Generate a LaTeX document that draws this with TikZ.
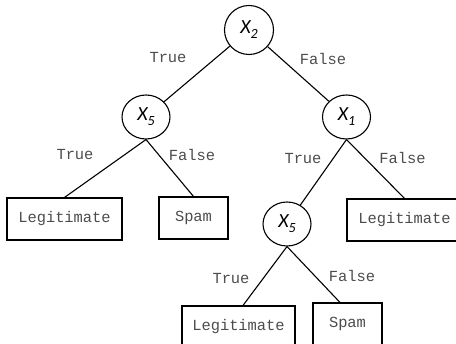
\documentclass[tikz,border=0pt]{standalone}
\usepackage{fontspec}
\setmonofont{Liberation Mono}
\newfontfamily\varfont{Carlito}
\usetikzlibrary{shapes.geometric}
\tikzset{
  var/.style={draw, ellipse, line width=1.1pt, inner sep=0pt, minimum width=48pt, minimum height=44pt,
    font=\fontsize{20}{20}\selectfont\varfont\itshape},
  leaf/.style={draw, rectangle, line width=1.1pt, inner sep=0pt, minimum height=42pt,
    font=\fontsize{15.4}{18}\selectfont\ttfamily, text=black!70},
  lbl/.style={font=\fontsize{15.4}{18}\selectfont\ttfamily, text=black!70, inner sep=0pt},
  edge/.style={line width=1.1pt}
}
\newcommand{\xvar}[1]{X\raisebox{-5pt}{\fontsize{14}{14}\selectfont #1}}
\begin{document}
\begin{tikzpicture}[x=1pt,y=-1pt]
\useasboundingbox (0,0) rectangle (456,344);
\clip (0,0) rectangle (456,344);
% decision nodes
\node[var, minimum width=49pt, minimum height=49pt] (root) at (249,30) {\xvar{2}};
\node[var] (x5a) at (146,117) {\xvar{5}};
\node[var] (x1) at (346.5,117) {\xvar{1}};
\node[var] (x5b) at (287,224) {\xvar{5}};
% leaves
\node[leaf, minimum width=115pt] (leg1) at (64.5,219) {Legitimate};
\node[leaf, minimum width=69pt] (spam1) at (193.5,218) {Spam};
\node[leaf, minimum width=115pt] (leg2) at (404.5,220) {Legitimate};
\node[leaf, minimum width=113pt] (leg3) at (238.5,327) {Legitimate};
\node[leaf, minimum width=69pt] (spam3) at (347.5,324) {Spam};
% edges
\draw[edge] (root) -- (x5a);
\draw[edge] (root) -- (x1);
\draw[edge] (x5a.south) -- (leg1.north);
\draw[edge] (x5a.south) -- (spam1.north);
\draw[edge] (x1.south) -- (x5b);
\draw[edge] (x1.south) -- (leg2.north);
\draw[edge] (x5b.south) -- ([xshift=4.5pt]leg3.north);
\draw[edge] (x5b.south) -- ([xshift=-7.5pt]spam3.north);
% labels
\node[lbl] (t1) at (168,58) {True};
\node[lbl] (f1) at (323,59) {False};
\node[lbl] (t2) at (75,155) {True};
\node[lbl] (f2) at (192,155) {False};
\node[lbl] (t3) at (303,159) {True};
\node[lbl] (f3) at (402.5,158) {False};
\node[lbl] (t4) at (231,279) {True};
\node[lbl] (f4) at (352,276) {False};
\end{tikzpicture}
\end{document}
